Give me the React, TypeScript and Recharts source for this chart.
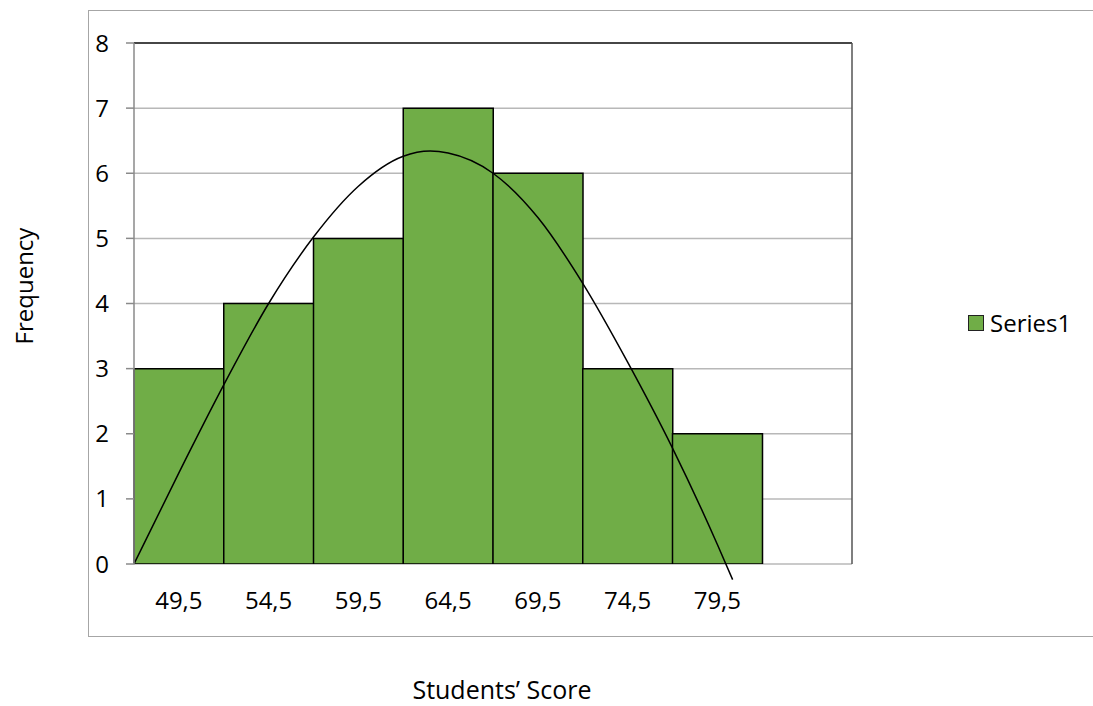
import React from 'react';
import {
  ComposedChart,
  Bar,
  Line,
  XAxis,
  YAxis,
  CartesianGrid,
  ReferenceLine,
} from 'recharts';

// Categories (class boundaries) and frequencies
const scoreLabels = ['49,5', '54,5', '59,5', '64,5', '69,5', '74,5', '79,5', ''];
const frequencies: (number | null)[] = [3, 4, 5, 7, 6, 3, 2, null];

// Trend curve (x in class-width units)
const curveX = [0, 0.5, 1, 1.5, 2, 2.5, 3, 3.3, 3.5, 4, 4.5, 5, 5.5, 6, 6.5, 6.67];
const curveY = [0, 1.4, 2.75, 4.0, 5.02, 5.8, 6.26, 6.34, 6.31, 6.0, 5.32, 4.31, 3.1, 1.78, 0.3, -0.24];

const yTicks = [0, 1, 2, 3, 4, 5, 6, 7, 8];
const boundaryTicks = [0, 1, 2, 3, 4, 5, 6, 7, 8];

const seriesName = 'Series1';
const xTitle = 'Students\u2019 Score';
const yTitle = 'Frequency';

const barData = scoreLabels.map((label, i) => ({ label, value: frequencies[i] }));
const curveData = curveX.map((u, i) => ({ u, v: curveY[i] }));

const FONT = '"Open Sans", sans-serif';
const FS = 24;
const GREEN = '#70AD47';

export default function App() {
  return (
    <div
      style={{
        position: 'absolute',
        left: 0,
        top: 0,
        width: 1093,
        height: 706,
        overflow: 'hidden',
        background: '#ffffff',
        fontFamily: FONT,
      }}
    >
      <style>{`.curve-line, .curve-line * { clip-path: none !important; }`}</style>
      {/* chart frame */}
      <div
        style={{
          position: 'absolute',
          left: 88,
          top: 10,
          width: 1020,
          height: 625,
          border: '1.5px solid #a6a6a6',
          background: '#ffffff',
        }}
      />
      <div style={{ position: 'absolute', left: 0, top: 0 }}>
        <ComposedChart
          width={1093}
          height={706}
          data={barData}
          margin={{ top: 43, right: 241, left: 0, bottom: 62 }}
          barCategoryGap={0}
          barGap={0}
        >
          <CartesianGrid vertical={false} stroke="#b8b8b8" strokeWidth={1.5} />
          <XAxis
            xAxisId="c"
            type="number"
            dataKey="u"
            domain={[0, 8]}
            ticks={boundaryTicks}
            allowDataOverflow
            tick={false}
            tickSize={8}
            height={0}
            axisLine={{ stroke: '#666666', strokeWidth: 1.5 }}
            tickLine={{ stroke: '#a0a0a0', strokeWidth: 1.5 }}
          />
          <XAxis
            dataKey="label"
            axisLine={false}
            tickLine={false}
            tickSize={8}
            tickMargin={20}
            height={80}
            interval={0}
            tick={{ fill: '#000000', fontSize: FS, fontFamily: FONT }}
          />
          <YAxis
            domain={[0, 8]}
            ticks={yTicks}
            allowDataOverflow
            width={134}
            tickSize={8}
            tickMargin={17}
            axisLine={{ stroke: '#8a8a8a', strokeWidth: 1.5 }}
            tickLine={{ stroke: '#8a8a8a', strokeWidth: 1.5 }}
            tick={{ fill: '#000000', fontSize: FS, fontFamily: FONT }}
          />
          <Bar
            dataKey="value"
            name={seriesName}
            fill={GREEN}
            stroke="#000000"
            strokeWidth={1.5}
            isAnimationActive={false}
          />
          <ReferenceLine y={8} stroke="#1a1a1a" strokeWidth={1.5} />
          <ReferenceLine xAxisId="c" x={8} stroke="#555555" strokeWidth={1.5} />
          <Line
            className="curve-line"
            xAxisId="c"
            data={curveData}
            dataKey="v"
            type="monotone"
            stroke="#000000"
            strokeWidth={1.5}
            dot={false}
            activeDot={false}
            legendType="none"
            isAnimationActive={false}
          />
        </ComposedChart>
      </div>
      {/* Y axis title */}
      <div
        style={{
          position: 'absolute',
          left: 24,
          top: 286,
          transform: 'translate(-50%, -50%) rotate(-90deg)',
          fontSize: FS,
          lineHeight: 1,
          whiteSpace: 'nowrap',
          color: '#000',
        }}
      >
        {yTitle}
      </div>
      {/* Legend */}
      <div
        style={{
          position: 'absolute',
          left: 968,
          top: 323,
          transform: 'translateY(-50%)',
          display: 'flex',
          alignItems: 'center',
          fontSize: FS,
          lineHeight: 1,
          color: '#000',
          whiteSpace: 'nowrap',
        }}
      >
        <span
          style={{
            display: 'inline-block',
            width: 14,
            height: 14,
            background: GREEN,
            border: '1px solid #222',
            marginRight: 6,
          }}
        />
        <span>{seriesName}</span>
      </div>
      {/* X axis title box */}
      <div
        style={{
          position: 'absolute',
          left: 320,
          top: 663,
          width: 366,
          height: 60,
          background: '#ffffff',
        }}
      />
      <div
        style={{
          position: 'absolute',
          left: 502,
          top: 677,
          transform: 'translateX(-50%)',
          fontSize: 25,
          lineHeight: 1,
          whiteSpace: 'nowrap',
          color: '#000',
        }}
      >
        {xTitle}
      </div>
    </div>
  );
}
